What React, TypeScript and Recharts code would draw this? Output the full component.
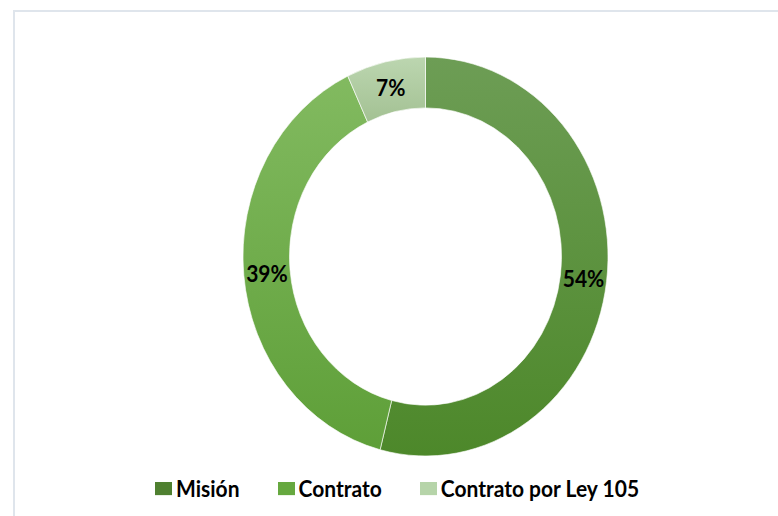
import { PieChart, Pie, Cell, Legend } from "recharts";

const categories = ["Misión", "Contrato", "Contrato por Ley 105"];
const shares = [54, 39, 7];
const sliceTop = ["#6d9d55", "#82ba60", "#bcd6b0"];
const sliceBottom = ["#4d882a", "#5e9f38", "#a3c193"];
const legendColors = ["#4f8030", "#66a83f", "#b6d4a9"];

const data = categories.map((name, i) => ({ name, value: shares[i] }));

const W = 778;
const H = 516;
const STRETCH = 1.093; // reference donut is slightly taller than wide
const FONT = "Lato, 'Open Sans', sans-serif";

const RADIAN = Math.PI / 180;

function renderLabel(props: any) {
  const { cx, cy, midAngle, innerRadius, outerRadius, value } = props;
  const r = (innerRadius + outerRadius) / 2;
  const x = cx + r * Math.cos(-midAngle * RADIAN);
  const y = cy + r * Math.sin(-midAngle * RADIAN);
  return (
    <text
      x={x}
      y={y}
      fill="#000"
      textAnchor="middle"
      dominantBaseline="central"
      fontFamily={FONT}
      fontWeight={700}
      fontSize={21}
    >
      {`${value}%`}
    </text>
  );
}

function LegendContent() {
  return (
    <div
      style={{
        display: "flex",
        alignItems: "center",
        gap: 38,
        fontFamily: FONT,
        fontWeight: 700,
        fontSize: 21,
        color: "#000",
        whiteSpace: "nowrap",
      }}
    >
      {categories.map((c, i) => (
        <div key={c} style={{ display: "flex", alignItems: "center" }}>
          <span
            style={{
              display: "inline-block",
              width: 17,
              height: 12,
              background: legendColors[i],
              marginRight: 4,
            }}
          />
          <span>{c}</span>
        </div>
      ))}
    </div>
  );
}

export default function App() {
  return (
    <div
      style={{
        position: "absolute",
        left: 0,
        top: 0,
        width: W,
        height: H,
        overflow: "hidden",
        background: "#fff",
      }}
    >
      <div
        style={{
          position: "absolute",
          left: 13,
          top: 10,
          right: 0,
          bottom: 0,
          borderLeft: "2px solid #dfe5ec",
          borderTop: "2px solid #dfe5ec",
        }}
      />
      <div
        style={{
          position: "absolute",
          left: 0,
          top: 0,
          transform: `scaleY(${STRETCH})`,
          transformOrigin: "0 0",
        }}
      >
        <PieChart
          width={W}
          height={Math.round(H / STRETCH)}
          margin={{ top: 0, right: 0, bottom: 0, left: 0 }}
        >
          <defs>
            {categories.map((c, i) => (
              <linearGradient key={c} id={`grad${i}`} x1="0" y1="0" x2="0" y2="1">
                <stop offset="0%" stopColor={sliceTop[i]} />
                <stop offset="100%" stopColor={sliceBottom[i]} />
              </linearGradient>
            ))}
          </defs>
          <Pie
            data={data}
            dataKey="value"
            nameKey="name"
            cx={425.5}
            cy={234.7}
            innerRadius={136}
            outerRadius={182.5}
            startAngle={90}
            endAngle={-270}
            stroke="#ffffff"
            strokeWidth={0.6}
            label={renderLabel}
            labelLine={false}
            isAnimationActive={false}
          >
            {data.map((d, i) => (
              <Cell key={d.name} fill={`url(#grad${i})`} />
            ))}
          </Pie>
          <Legend
            content={<LegendContent />}
            wrapperStyle={{ left: 155, top: 434, width: "auto" }}
          />
        </PieChart>
      </div>
    </div>
  );
}
